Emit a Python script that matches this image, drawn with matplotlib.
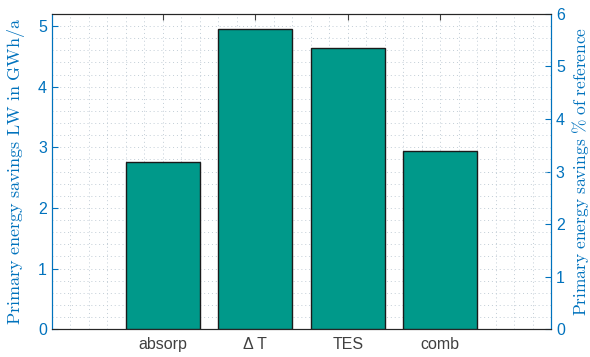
import matplotlib.pyplot as plt
from matplotlib.ticker import MultipleLocator

plt.rcParams['font.family'] = ['Liberation Sans', 'DejaVu Sans']
plt.rcParams['mathtext.fontset'] = 'cm'

categories = ['absorp', 'Δ T', 'TES', 'comb']
positions = [1, 2, 3, 4]
savings_gwh = [2.75, 4.95, 4.63, 2.94]

blue = '#0072BD'
teal = '#00998A'

fig = plt.figure(figsize=(5.9, 3.57), dpi=100)
ax = fig.add_axes([0.088, 0.078, 0.846, 0.883])
ax.bar(positions, savings_gwh, width=0.8, color=teal, edgecolor='#1a1a1a', linewidth=1.0, zorder=3)
ax.set_xlim(-0.2, 5.2)
ax.set_ylim(0, 5.2)
ax.set_xticks(positions)
ax.set_xticklabels(categories, fontsize=11.5, color='#404040')
ax.xaxis.set_minor_locator(MultipleLocator(0.2))
ax.yaxis.set_major_locator(MultipleLocator(1))
ax.yaxis.set_minor_locator(MultipleLocator(0.2))
ax.grid(which='both', color='#c2cdd6', linestyle=(0, (1, 3)), linewidth=0.7, zorder=0)
ax.tick_params(axis='x', which='major', direction='in', top=True, length=4, color='#404040', pad=6)
ax.tick_params(axis='x', which='minor', length=0)
ax.tick_params(axis='y', which='major', direction='in', length=4, color=blue, labelcolor=blue, labelsize=11.5)
ax.tick_params(axis='y', which='minor', length=0)
ax.set_ylabel(r'$\mathrm{Primary\ energy\ savings\ LW\ in\ GWh/a}$', color=blue, fontsize=13, labelpad=8)
for s in ['top', 'bottom']:
    ax.spines[s].set_color('#262626')
ax.spines['left'].set_color(blue)
ax.spines['right'].set_color(blue)

ax2 = ax.twinx()
ax2.set_ylim(0, 6)
ax2.yaxis.set_major_locator(MultipleLocator(1))
ax2.tick_params(axis='y', which='major', direction='in', length=4, color=blue, labelcolor=blue, labelsize=11.5)
ax2.set_ylabel(r'$\mathrm{Primary\ energy\ savings\ \%\ of\ reference}$', color=blue, fontsize=12.5, labelpad=4)
ax2.spines['right'].set_color(blue)
ax2.spines['left'].set_color(blue)
ax2.spines['top'].set_color('#262626')
ax2.spines['bottom'].set_color('#262626')
ax2.set_zorder(0)
ax.set_zorder(1)
ax.patch.set_visible(False)

fig.savefig('out.png', dpi=100)
